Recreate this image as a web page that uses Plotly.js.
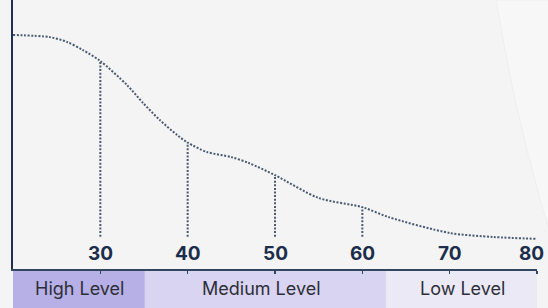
<!DOCTYPE html>
<html><head><meta charset="utf-8">
<script src="https://cdn.plot.ly/plotly-3.0.1.min.js"></script>
<style>html,body{margin:0;padding:0;background:#f4f4f4;}#c{width:548px;height:308px;}</style>
</head><body><div id="c"></div>
<script>
// curve samples
const curveX = [20, 24.2, 26.2, 28.0, 30, 33.05, 34.9, 36.8, 38.8, 40, 42.2, 45, 47, 50, 55, 60, 63, 70, 75, 80];
const curveY = [87.0, 86.2, 84.4, 81.4, 77.3, 68.4, 61.7, 55.4, 49.8, 47.0, 43.5, 41.6, 39.4, 34.9, 26.4, 23.0, 19.3, 13.4, 11.9, 11.2];
// drop lines
const dropX = [30, 40, 50, 60];
const dropTop = [77.3, 47.0, 34.9, 23.0];
const dropBottom = 12.0;
// ticks
const tickVals = [30, 40, 50, 60, 70, 80];
const tickText = ['30', '40', '50', '60', '70', '80'];
// level bands
const bandNames = ['High Level', 'Medium Level', 'Low Level'];
const bandStart = [20, 35.1, 62.7];
const bandEnd = [35.1, 62.7, 80];
const bandLabelX = [27.6, 48.5, 71.5];
const bandColors = ['#b7b0e6', '#d8d4f1', '#ebe9f6'];

const lineColor = '#4b5a73';
const dash = '2px,1.6px';

const traces = [{
  x: curveX, y: curveY, mode: 'lines', type: 'scatter',
  line: {shape: 'spline', smoothing: 0.8, color: lineColor, width: 2, dash: dash},
  hoverinfo: 'skip'
}];
dropX.forEach((x, i) => {
  traces.push({x: [x, x], y: [dropBottom, dropTop[i]], mode: 'lines', type: 'scatter',
    line: {color: lineColor, width: 2, dash: dash}, hoverinfo: 'skip'});
});

const shapes = [{
  type: 'path', xref: 'paper', yref: 'paper', layer: 'below',
  path: 'M0.9218,1.0 L0.939,0.814 L0.958,0.628 L0.981,0.442 L1.006,0.257 L1.034,0.071 L1.1,0.0 L1.1,1.0 Z',
  fillcolor: '#f7f7f8', line: {color: '#eceef0', width: 1}
}];
const annotations = [];
bandNames.forEach((n, i) => {
  shapes.push({type: 'rect', xref: 'x', yref: 'paper', x0: bandStart[i], x1: bandEnd[i],
    y0: -0.145, y1: 0, fillcolor: bandColors[i], line: {width: 0}, layer: 'below'});
  annotations.push({x: bandLabelX[i], xref: 'x', y: -0.0725, yref: 'paper', text: n,
    showarrow: false, font: {family: 'Inter, sans-serif', size: 18, color: '#2e2e38'},
    xanchor: 'center', yanchor: 'middle'});
});
tickVals.forEach((v, i) => {
  annotations.push({x: v, xref: 'x', y: 0, yref: 'paper', text: tickText[i], showarrow: false,
    xanchor: 'center', yanchor: 'bottom', yshift: 2, xshift: (i === tickVals.length - 1 ? -6 : 0),
    font: {family: 'Inter, sans-serif', size: 19, color: '#1b2d4b', weight: 700}});
});

const layout = {
  width: 548, height: 308,
  margin: {l: 13, r: 11, t: 0, b: 39},
  paper_bgcolor: '#f4f4f4', plot_bgcolor: 'rgba(0,0,0,0)',
  showlegend: false,
  xaxis: {range: [20, 80], showgrid: false, zeroline: false,
    showline: true, linecolor: '#33465f', linewidth: 1.5,
    tickvals: tickVals, ticktext: tickText, showticklabels: false,
    ticks: 'outside', ticklen: 3, tickwidth: 1.5, tickcolor: '#33465f'},
  yaxis: {range: [0, 100], showgrid: false, zeroline: false, showticklabels: false,
    showline: true, linecolor: '#1e3352', linewidth: 2, ticks: ''},
  shapes: shapes, annotations: annotations
};
Plotly.newPlot('c', traces, layout, {displayModeBar: false, staticPlot: true});
</script></body></html>
